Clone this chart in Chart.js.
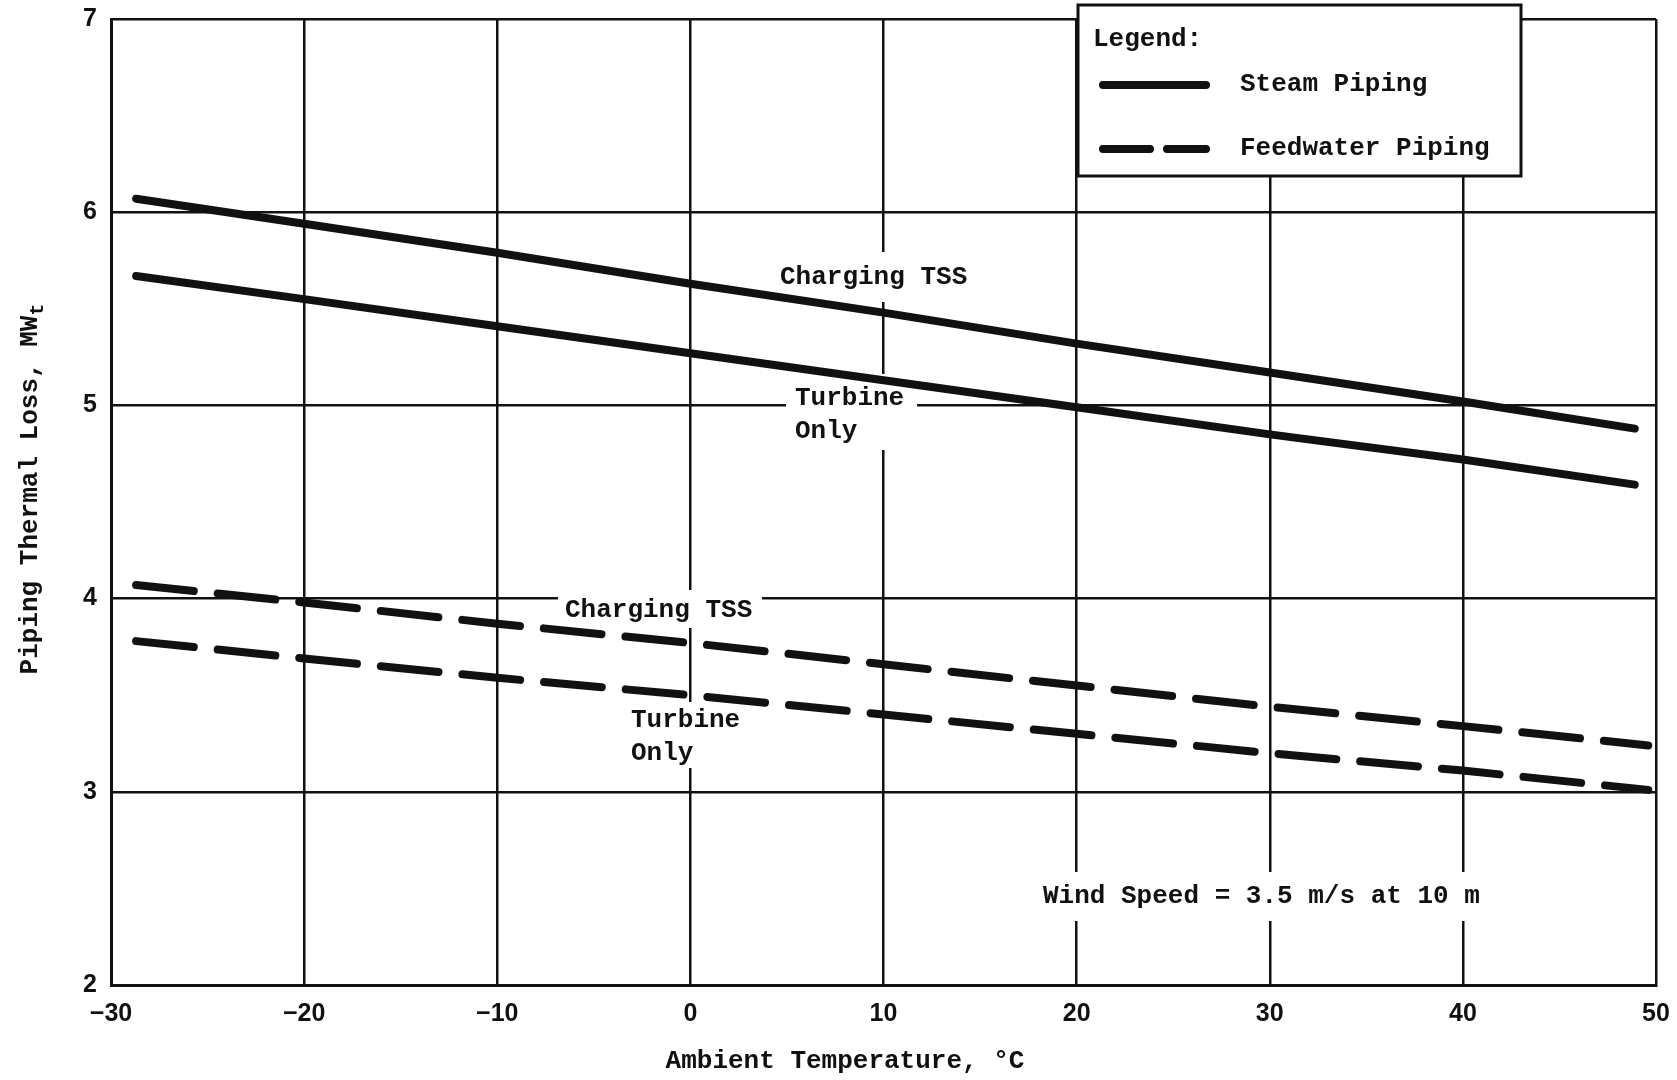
<!DOCTYPE html>
<html>
<head>
<meta charset="utf-8">
<script src="https://cdn.jsdelivr.net/npm/chart.js@4"></script>
<style>
  html, body { margin: 0; padding: 0; background: #fff; }
  #wrap { width: 1677px; height: 1080px; }
</style>
</head>
<body>
<div id="wrap"><canvas id="loss-chart" width="1677" height="1080"></canvas></div>
<script>
// values (ambient temperature in °C, thermal loss in MWt)
const steamTemps = [-28.7, -20, -10, 0, 10, 20, 30, 40, 48.9];
const steamCharging = [6.07, 5.94, 5.79, 5.63, 5.48, 5.32, 5.17, 5.02, 4.88];
const steamTurbine = [5.67, 5.55, 5.41, 5.27, 5.13, 4.99, 4.85, 4.72, 4.59];
const feedTemps = [-28.7, -20, -10, 0, 10, 20, 30, 40, 49.6];
const feedCharging = [4.07, 3.98, 3.87, 3.77, 3.66, 3.55, 3.44, 3.34, 3.24];
const feedTurbine = [3.78, 3.69, 3.59, 3.50, 3.40, 3.30, 3.20, 3.11, 3.01];
const xTicks = [-30, -20, -10, 0, 10, 20, 30, 40, 50];
const yTicks = [2, 3, 4, 5, 6, 7];

const monoFont = "bold 26px 'Liberation Mono', 'DejaVu Sans Mono', monospace";
const ink = "#111";

const toPoints = (xs, ys) => xs.map((x, i) => ({ x, y: ys[i] }));

// text notes on the plot, each sits on a white patch that breaks the grid
const notes = [
  { lines: ["Charging TSS"], x: 780, y: 277, box: [776, 252, 975, 302] },
  { lines: ["Turbine", "Only"], x: 795, y: 398, box: [786, 374, 917, 450] },
  { lines: ["Charging TSS"], x: 565, y: 610, box: [558, 590, 762, 628] },
  { lines: ["Turbine", "Only"], x: 631, y: 720, box: [625, 702, 750, 768] },
  { lines: ["Wind Speed = 3.5 m/s at 10 m"], x: 1043, y: 896, box: [1035, 872, 1505, 921] }
];

const notesPlugin = {
  id: "notes",
  beforeDatasetsDraw(chart) {
    const ctx = chart.ctx;
    ctx.save();
    notes.forEach(n => {
      ctx.fillStyle = "#fff";
      ctx.fillRect(n.box[0], n.box[1], n.box[2] - n.box[0], n.box[3] - n.box[1]);
      ctx.fillStyle = ink;
      ctx.font = monoFont;
      ctx.textAlign = "left";
      ctx.textBaseline = "middle";
      n.lines.forEach((t, i) => ctx.fillText(t, n.x, n.y + i * 33));
    });
    ctx.restore();
  },
  afterDraw(chart) {
    const ctx = chart.ctx;
    ctx.save();
    // axis titles
    ctx.fillStyle = ink;
    ctx.font = monoFont;
    ctx.textAlign = "center";
    ctx.textBaseline = "middle";
    ctx.fillText("Ambient Temperature, °C", 845, 1061);

    ctx.save();
    ctx.translate(30, 487);
    ctx.rotate(-Math.PI / 2);
    const main = "Piping Thermal Loss, MW";
    const w = ctx.measureText(main).width;
    ctx.textAlign = "left";
    ctx.fillText(main, -w / 2 - 8, 0);
    ctx.font = "bold 20px 'Liberation Mono', monospace";
    ctx.fillText("t", w / 2 - 8, 8);
    ctx.restore();

    // legend box
    const L = { left: 1078, top: 5, right: 1521, bottom: 176 };
    ctx.fillStyle = "#fff";
    ctx.fillRect(L.left, L.top, L.right - L.left, L.bottom - L.top);
    ctx.strokeStyle = ink;
    ctx.lineWidth = 3;
    ctx.strokeRect(L.left, L.top, L.right - L.left, L.bottom - L.top);

    ctx.fillStyle = ink;
    ctx.font = monoFont;
    ctx.textAlign = "left";
    ctx.textBaseline = "middle";
    ctx.fillText("Legend:", 1093, 39);
    ctx.fillText("Steam Piping", 1240, 84);
    ctx.fillText("Feedwater Piping", 1240, 148);

    ctx.lineWidth = 8;
    ctx.lineCap = "round";
    ctx.beginPath();
    ctx.moveTo(1103, 85);
    ctx.lineTo(1206, 85);
    ctx.stroke();
    ctx.beginPath();
    ctx.moveTo(1103, 149);
    ctx.lineTo(1150, 149);
    ctx.moveTo(1167, 149);
    ctx.lineTo(1206, 149);
    ctx.stroke();
    ctx.restore();
  }
};

const lineStyle = {
  borderColor: ink,
  borderWidth: 8,
  borderCapStyle: "round",
  pointRadius: 0,
  tension: 0,
  fill: false
};

new Chart(document.getElementById("loss-chart").getContext("2d"), {
  type: "line",
  data: {
    datasets: [
      { label: "Steam Piping - Charging TSS", data: toPoints(steamTemps, steamCharging), ...lineStyle },
      { label: "Steam Piping - Turbine Only", data: toPoints(steamTemps, steamTurbine), ...lineStyle },
      { label: "Feedwater Piping - Charging TSS", data: toPoints(feedTemps, feedCharging), ...lineStyle, borderDash: [58, 24] },
      { label: "Feedwater Piping - Turbine Only", data: toPoints(feedTemps, feedTurbine), ...lineStyle, borderDash: [58, 24] }
    ]
  },
  options: {
    responsive: false,
    animation: false,
    layout: { padding: { left: 0, right: 21, top: 19, bottom: 0 } },
    plugins: { legend: { display: false }, tooltip: { enabled: false } },
    scales: {
      x: {
        type: "linear",
        min: -30,
        max: 50,
        afterFit: s => { s.height = 95; s.paddingLeft = 0; s.paddingRight = 0; },
        afterBuildTicks: s => { s.ticks = xTicks.map(v => ({ value: v })); },
        grid: { color: ink, lineWidth: 2.5, drawTicks: false },
        border: { color: ink, width: 3 },
        ticks: {
          padding: 14,
          color: ink,
          font: { family: "'Liberation Sans', Arial, sans-serif", weight: "bold", size: 25 },
          callback: v => String(v).replace("-", "\u2212")
        }
      },
      y: {
        min: 2,
        max: 7,
        afterFit: s => { s.width = 111; s.paddingTop = 0; s.paddingBottom = 0; },
        afterBuildTicks: s => { s.ticks = yTicks.map(v => ({ value: v })); },
        grid: { color: ink, lineWidth: 2.5, drawTicks: false },
        border: { color: ink, width: 3 },
        ticks: {
          padding: 14,
          color: ink,
          font: { family: "'Liberation Sans', Arial, sans-serif", weight: "bold", size: 25 }
        }
      }
    }
  },
  plugins: [notesPlugin]
});
</script>
</body>
</html>
